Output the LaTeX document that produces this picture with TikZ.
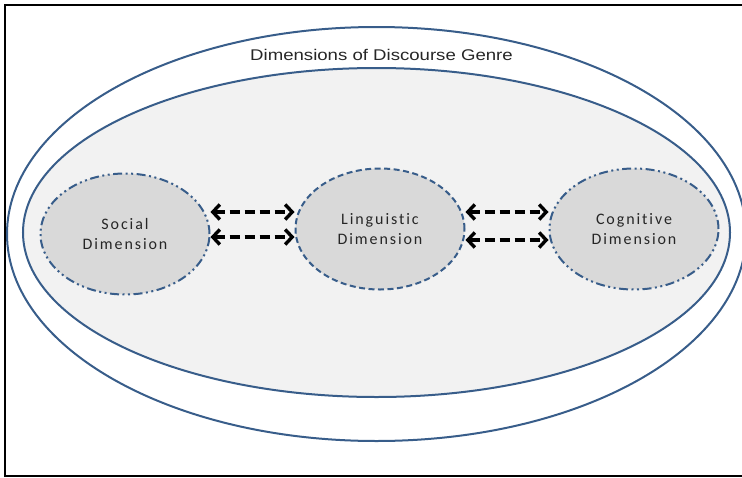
\documentclass[tikz,border=0pt]{standalone}
\usepackage{fontspec}
\usetikzlibrary{shapes.geometric,arrows.meta}
\newfontfamily\titlefont[FakeStretch=1.2]{Liberation Sans}
\newfontfamily\dimfont[LetterSpace=12,RawFeature=-liga]{Carlito}
\definecolor{outline}{RGB}{56,93,138}
\definecolor{innerfill}{RGB}{242,242,242}
\definecolor{dimfill}{RGB}{217,217,217}

\begin{document}
\begin{tikzpicture}[x=1pt,y=-1pt]
%%%%%%%%%%%%%%%%%%%%%%%%%%%%%%%%%%%%%%%%%%%%%%%%%%%%%%%%%%%%%%
%styles
\tikzstyle{genre}=[ellipse,draw=outline,line width=2pt,inner sep=0pt]
\tikzstyle{dimension}=[ellipse,fill=dimfill,draw=outline,line width=2pt,minimum width=169pt,minimum height=121pt,inner sep=0pt,align=center,font=\dimfont\fontsize{16}{20}\selectfont,text=black!85]
\tikzstyle{dashdotdot}=[dash pattern=on 9pt off 3.5pt on 2pt off 3.5pt on 2pt off 3.5pt]
\tikzstyle{twoway}=[<->,>={Straight Barb[length=7pt,width=15pt]},line width=3.4pt,dash pattern=on 10pt off 5pt]
\useasboundingbox (0,0) rectangle (742,477);
\clip (0,0) rectangle (742,477);
%frame
\draw[line width=2.4pt] (5,5) rectangle (760,476);
%%%%%%%%%%%%%%%%%%%%%%%%%%%%%%%%%%%%%%%%%%%%%%%%%%%%%%%%%%%%%%
%genre ellipses
\node[genre,minimum width=739pt,minimum height=414pt] (outer) at (376.5,234) {};
\node[genre,fill=innerfill,minimum width=707pt,minimum height=329pt] (inner) at (376.5,232.5) {};
\node[font=\titlefont\fontsize{15.5}{18}\selectfont,text=black!85] (title) at (381.5,55) {Dimensions of Discourse Genre};
%dimensions
\node[dimension,dashdotdot] (social) at (125,234) {Social\\Dimension};
\node[dimension,dash pattern=on 6pt off 3.5pt] (linguistic) at (380,229) {Linguistic\\Dimension};
\node[dimension,dashdotdot] (cognitive) at (634,229) {Cognitive\\Dimension};
%%%%%%%%%%%%%%%%%%%%%%%%%%%%%%%%%%%%%%%%%%%%%%%%%%%%%%%%%%%%%%
%ARROWS
\draw[twoway] ([yshift=22pt]social.east) -- ([yshift=17pt]linguistic.west);
\draw[twoway] ([yshift=-3pt]social.east) -- ([yshift=-8pt]linguistic.west);
\draw[twoway] ([yshift=17pt]linguistic.east) -- ([yshift=17pt]cognitive.west);
\draw[twoway] ([yshift=-11pt]linguistic.east) -- ([yshift=-11pt]cognitive.west);
\end{tikzpicture}
\end{document}
